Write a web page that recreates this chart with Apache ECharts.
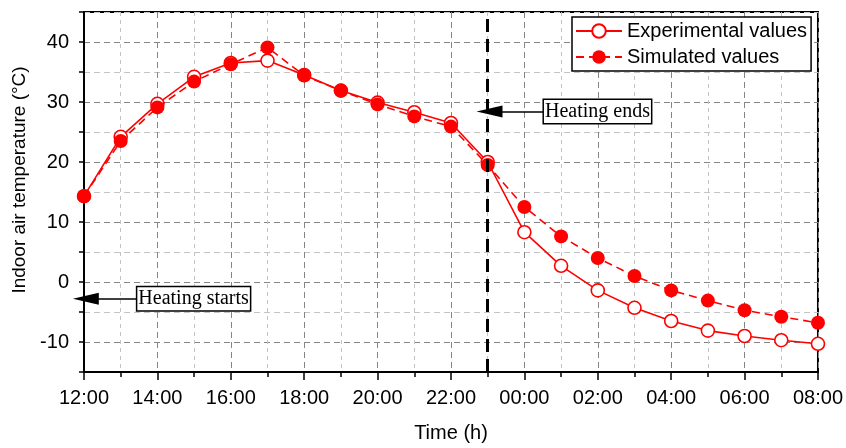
<!DOCTYPE html>
<html><head><meta charset="utf-8">
<script src="https://cdn.jsdelivr.net/npm/echarts@6/dist/echarts.min.js"></script>
<style>html,body{margin:0;padding:0;background:#fff}#c{width:846px;height:448px}</style>
</head><body><div id="c"></div>
<script>
const times = ["12:00","13:00","14:00","15:00","16:00","17:00","18:00","19:00","20:00","21:00","22:00","23:00",
               "00:00","01:00","02:00","03:00","04:00","05:00","06:00","07:00","08:00"];
const tickLabels = ["12:00","14:00","16:00","18:00","20:00","22:00","00:00","02:00","04:00","06:00","08:00"];
const experimental = [14.3, 24.2, 29.7, 34.2, 36.5, 36.9, 34.5, 31.9, 29.9, 28.3, 26.5, 20.0,
                      8.3, 2.7, -1.4, -4.3, -6.5, -8.1, -9.0, -9.7, -10.3];
const simulated = [14.3, 23.5, 29.1, 33.4, 36.3, 39.1, 34.4, 31.9, 29.6, 27.6, 25.9, 19.5,
                   12.5, 7.6, 4.0, 1.0, -1.4, -3.1, -4.7, -5.8, -6.8];
const seriesNames = ["Experimental values", "Simulated values"];
const heatingEndTime = "23:00";
const annotationTexts = ["Heating ends", "Heating starts"];
// annotation anchors in data units: [box-left x, arrow-tip x, y]
const annotationAnchors = [[12.52, 11.05, 28.4], [1.44, 0.05, -2.8]];

const RED = '#ff0000';
const MAJOR = '#858585', MINOR = '#c4c4c4';
const sans = 'Liberation Sans, Arial, sans-serif';
const serif = 'Liberation Serif, Times New Roman, serif';

const pts = arr => arr.map((v, i) => [i, v]);
const endIdx = times.indexOf(heatingEndTime);

const arrowLines = annotationAnchors.map(a => [{coord: [a[0], a[2]]}, {coord: [a[1], a[2]]}]);
const boxPoints = annotationAnchors.map((a, i) => ({
  coord: [a[0], a[2]], value: annotationTexts[i]
}));

const chart = echarts.init(document.getElementById('c'), null, {renderer: 'canvas'});
chart.setOption({
  animation: false,
  backgroundColor: '#fff',
  grid: {left: 84, top: 12, right: 28, bottom: 73, show: true, borderColor: '#000', borderWidth: 2, backgroundColor: 'transparent'},
  legend: {
    data: seriesNames, orient: 'vertical', left: 572, top: 17,
    backgroundColor: '#fff', borderColor: '#000', borderWidth: 1.5,
    padding: [4, 4, 4, 3], itemGap: 6, itemWidth: 46, itemHeight: 17,
    textStyle: {fontFamily: sans, fontSize: 20, color: '#000', lineHeight: 20}
  },
  xAxis: {
    type: 'value', min: 0, max: times.length - 1, interval: 2,
    axisLine: {onZero: false, lineStyle: {color: '#000', width: 2}},
    axisTick: {show: true, length: 8, lineStyle: {color: '#000', width: 1.5}},
    minorTick: {show: true, splitNumber: 2, length: 5, lineStyle: {color: '#000', width: 1.5}},
    axisLabel: {fontFamily: sans, fontSize: 20, color: '#000', margin: 16,
      formatter: v => times[v]},
    splitLine: {show: true, lineStyle: {color: MAJOR, width: 1, type: [6, 4]}},
    minorSplitLine: {show: true, lineStyle: {color: MINOR, width: 1, type: [4, 4]}},
    name: 'Time (h)', nameLocation: 'middle', nameGap: 51,
    nameTextStyle: {fontFamily: sans, fontSize: 20, color: '#000'}
  },
  yAxis: {
    type: 'value', min: -15, max: 45, interval: 5,
    axisLine: {onZero: false, lineStyle: {color: '#000', width: 2}},
    axisTick: {show: true, length: 5, lineStyle: {color: '#000', width: 1.5}},
    axisLabel: {fontFamily: sans, fontSize: 20, color: '#000', margin: 15,
      formatter: v => (v % 10 === 0 ? String(v) : '')},
    splitLine: {show: true, lineStyle: {color: [MINOR, MAJOR], width: 1, type: [6, 4]}},
    name: 'Indoor air temperature (°C)', nameLocation: 'middle', nameGap: 45,
    nameTextStyle: {fontFamily: sans, fontSize: 19, color: '#000', padding: [0, 0, 0, 24]}
  },
  series: [
    {
      name: seriesNames[0], type: 'line', data: pts(experimental), z: 3,
      symbol: 'circle', symbolSize: 13,
      lineStyle: {color: RED, width: 1.6, type: 'solid'},
      itemStyle: {color: '#fff', borderColor: RED, borderWidth: 1.6}
    },
    {
      name: seriesNames[1], type: 'line', data: pts(simulated), z: 4,
      symbol: 'circle', symbolSize: 14,
      lineStyle: {color: RED, width: 1.6, type: [8, 5]},
      itemStyle: {color: RED, borderColor: RED, borderWidth: 0}
    },
    {
      name: 'annotations', type: 'line', data: [], z: 2,
      markLine: {
        silent: true, animation: false,
        data: [[{xAxis: endIdx, yAxis: -15}, {xAxis: endIdx, yAxis: 45}]],
        symbol: ['none', 'none'], label: {show: false},
        lineStyle: {color: '#000', width: 3, type: [13, 7]}
      }
    },
    {
      name: 'arrows', type: 'line', data: [], z: 5,
      markLine: {
        silent: true, animation: false,
        data: arrowLines,
        symbol: ['none', 'triangle'], symbolSize: [12, 26],
        label: {show: false},
        lineStyle: {color: '#000', width: 1.5, type: 'solid'}
      },
      markPoint: {
        silent: true, animation: false,
        data: boxPoints, symbol: 'rect', symbolSize: 1,
        itemStyle: {color: 'rgba(0,0,0,0)'},
        label: {show: true, position: 'right', distance: 0, formatter: p => p.value,
          fontFamily: serif, fontSize: 20, color: '#000', backgroundColor: '#fff',
          borderColor: '#000', borderWidth: 1.5, padding: [2, 1, 1, 1]}
      }
    }
  ]
});
</script></body></html>
